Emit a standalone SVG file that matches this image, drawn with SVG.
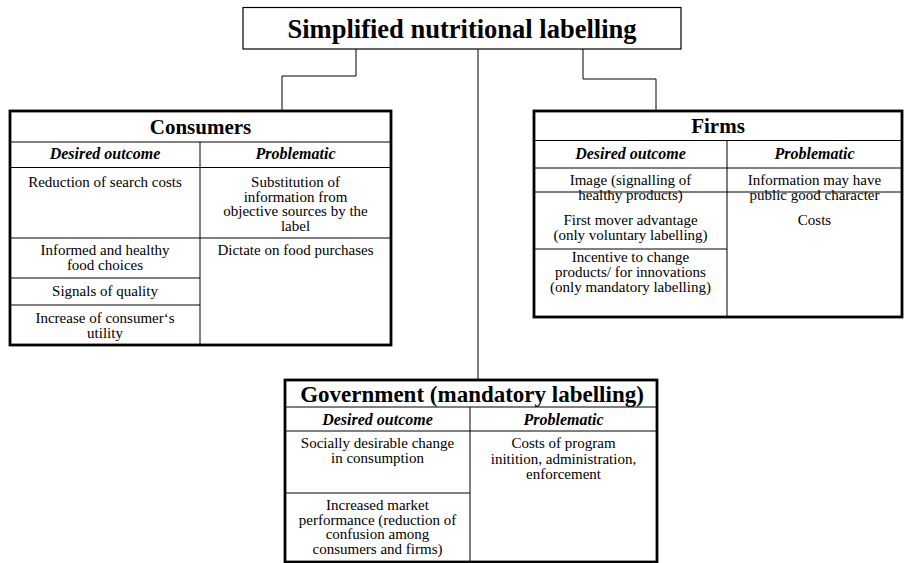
<svg xmlns="http://www.w3.org/2000/svg" width="904" height="563" viewBox="0 0 904 563">
<style>
text{font-family:"Liberation Serif","Times New Roman",serif;fill:#000;text-anchor:middle}
.t{font-size:15px}
.h{font-size:16px;font-weight:bold;font-style:italic}
.n{font-size:21px;font-weight:bold}
.outer{fill:#fff;stroke:#000;stroke-width:2.8}
.in{stroke:#000;stroke-width:1;fill:none}
.conn{stroke:#000;stroke-width:1;fill:none}
</style>
<rect width="904" height="563" fill="#fff"/>
<g id="connectors">
<polyline class="conn" points="356,49 356,76 282,76 282,110"/>
<polyline class="conn" points="478,49 478,380"/>
<polyline class="conn" points="583,49 583,79 656,79 656,110"/>
</g>
<g id="title">
<rect x="243" y="7.5" width="438" height="41.5" fill="#fff" stroke="#000" stroke-width="1.2"/>
<text x="462" y="38" style="font-size:26.5px;font-weight:bold">Simplified nutritional labelling</text>
</g>
<g id="consumers">
<rect class="outer" x="10" y="111" width="381" height="234"/>
<line class="in" x1="10" y1="142" x2="391" y2="142"/>
<line class="in" x1="10" y1="167.5" x2="391" y2="167.5"/>
<line class="in" x1="200" y1="142" x2="200" y2="345"/>
<line class="in" x1="10" y1="238" x2="391" y2="238"/>
<line class="in" x1="10" y1="278" x2="200" y2="278"/>
<line class="in" x1="10" y1="305" x2="200" y2="305"/>
<text class="n" x="200.5" y="134">Consumers</text>
<text class="h" x="105" y="159">Desired outcome</text>
<text class="h" x="295.5" y="159">Problematic</text>
<text class="t" x="105" y="187">Reduction of search costs</text>
<text class="t" x="295.5" y="187">Substitution of</text>
<text class="t" x="295.5" y="201.5">information from</text>
<text class="t" x="295.5" y="216">objective sources by the</text>
<text class="t" x="295.5" y="230.5">label</text>
<text class="t" x="105" y="255">Informed and healthy</text>
<text class="t" x="105" y="270">food choices</text>
<text class="t" x="295.5" y="255">Dictate on food purchases</text>
<text class="t" x="105" y="296">Signals of quality</text>
<text class="t" x="105" y="323">Increase of consumer‘s</text>
<text class="t" x="105" y="338">utility</text>
</g>
<g id="firms">
<rect class="outer" x="534" y="111" width="368" height="206"/>
<line class="in" x1="534" y1="140.5" x2="902" y2="140.5"/>
<line class="in" x1="534" y1="168" x2="902" y2="168"/>
<line class="in" x1="727" y1="140.5" x2="727" y2="317"/>
<line class="in" x1="534" y1="192" x2="902" y2="192"/>
<line class="in" x1="534" y1="249" x2="727" y2="249"/>
<text class="n" x="718" y="133">Firms</text>
<text class="h" x="630.5" y="159">Desired outcome</text>
<text class="h" x="814.5" y="159">Problematic</text>
<text class="t" x="630.5" y="185">Image (signalling of</text>
<text class="t" x="630.5" y="199.5">healthy products)</text>
<text class="t" x="814.5" y="185">Information may have</text>
<text class="t" x="814.5" y="199.5">public good character</text>
<text class="t" x="630.5" y="225">First mover advantage</text>
<text class="t" x="630.5" y="239.5">(only voluntary labelling)</text>
<text class="t" x="814.5" y="225">Costs</text>
<text class="t" x="630.5" y="262">Incentive to change</text>
<text class="t" x="630.5" y="277">products/ for innovations</text>
<text class="t" x="630.5" y="292">(only mandatory labelling)</text>
</g>
<g id="government">
<rect class="outer" x="285" y="380" width="372" height="182"/>
<line class="in" x1="285" y1="407" x2="657" y2="407"/>
<line class="in" x1="285" y1="431" x2="657" y2="431"/>
<line class="in" x1="470" y1="407" x2="470" y2="562"/>
<line class="in" x1="285" y1="493" x2="470" y2="493"/>
<text x="472" y="402" style="font-size:23px;font-weight:bold">Government (mandatory labelling)</text>
<text class="h" x="377.5" y="425">Desired outcome</text>
<text class="h" x="563.5" y="425">Problematic</text>
<text class="t" x="377.5" y="448">Socially desirable change</text>
<text class="t" x="377.5" y="463">in consumption</text>
<text class="t" x="563.5" y="448">Costs of program</text>
<text class="t" x="563.5" y="463.5">initition, administration,</text>
<text class="t" x="563.5" y="479">enforcement</text>
<text class="t" x="377.5" y="510">Increased market</text>
<text class="t" x="377.5" y="524.5">performance (reduction of</text>
<text class="t" x="377.5" y="539">confusion among</text>
<text class="t" x="377.5" y="554">consumers and firms)</text>
</g>
</svg>
